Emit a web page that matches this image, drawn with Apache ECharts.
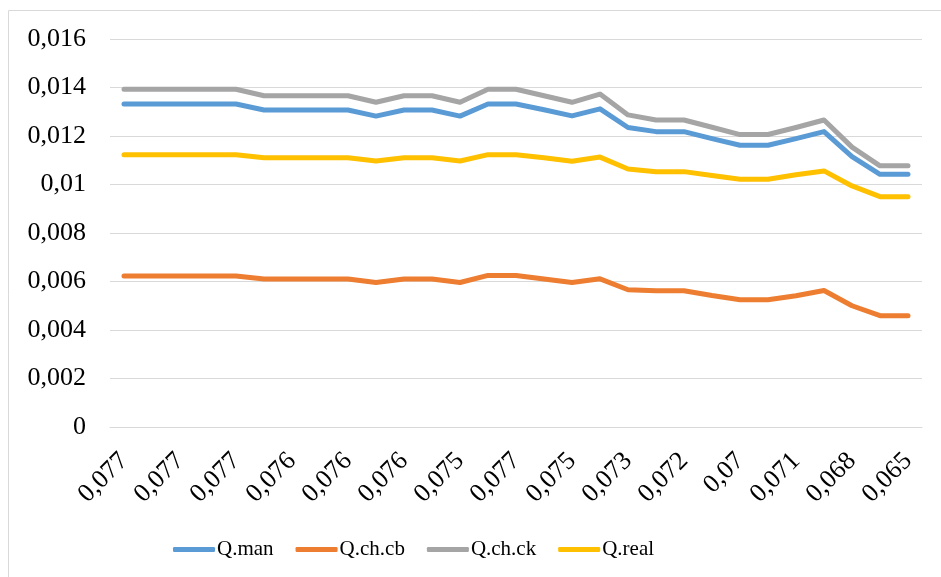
<!DOCTYPE html>
<html>
<head>
<meta charset="utf-8">
<script src="https://cdn.jsdelivr.net/npm/echarts@6/dist/echarts.min.js"></script>
<style>
  html, body { margin: 0; padding: 0; background: #fff; }
  #chart { width: 941px; height: 577px; }
</style>
</head>
<body>
<div id="chart"></div>
<script>
// Category labels (odd positions are not shown on the axis)
const categories = [
  '0,077', '0,077', '0,077', '0,077', '0,077', '0,076', '0,076', '0,076',
  '0,076', '0,076', '0,076', '0,076', '0,075', '0,076', '0,077', '0,076',
  '0,075', '0,074', '0,073', '0,072', '0,072', '0,071', '0,07', '0,07',
  '0,071', '0,071', '0,068', '0,066', '0,065'
];

const qMan = [
  0.01332, 0.01332, 0.01332, 0.01332, 0.01332, 0.01307, 0.01307, 0.01307,
  0.01307, 0.01282, 0.01307, 0.01307, 0.01282, 0.01332, 0.01332, 0.01308,
  0.01283, 0.01312, 0.01235, 0.01218, 0.01218, 0.01189, 0.01162, 0.01162,
  0.01189, 0.01218, 0.01115, 0.01042, 0.01042
];

const qChCb = [
  0.00623, 0.00623, 0.00623, 0.00623, 0.00623, 0.0061, 0.0061, 0.0061,
  0.0061, 0.00596, 0.0061, 0.0061, 0.00596, 0.00625, 0.00625, 0.0061,
  0.00596, 0.00611, 0.00566, 0.00562, 0.00562, 0.00542, 0.00525, 0.00525,
  0.00541, 0.00563, 0.005, 0.00459, 0.00459
];

const qChCk = [
  0.01393, 0.01393, 0.01393, 0.01393, 0.01393, 0.01366, 0.01366, 0.01366,
  0.01366, 0.01339, 0.01366, 0.01366, 0.01339, 0.01393, 0.01393, 0.01366,
  0.01339, 0.01373, 0.01287, 0.01266, 0.01266, 0.01236, 0.01206, 0.01206,
  0.01235, 0.01266, 0.01154, 0.01077, 0.01077
];

const qReal = [
  0.01123, 0.01123, 0.01123, 0.01123, 0.01123, 0.0111, 0.0111, 0.0111,
  0.0111, 0.01097, 0.0111, 0.0111, 0.01097, 0.01123, 0.01123, 0.0111,
  0.01096, 0.01113, 0.01064, 0.01053, 0.01053, 0.01037, 0.01022, 0.01022,
  0.0104, 0.01056, 0.00994, 0.0095, 0.0095
];

const yTicks = ['0', '0,002', '0,004', '0,006', '0,008', '0,01', '0,012', '0,014', '0,016'];

const seriesDefs = [
  { name: 'Q.man', data: qMan, color: '#5B9BD5' },
  { name: 'Q.ch.cb', data: qChCb, color: '#ED7D31' },
  { name: 'Q.ch.ck', data: qChCk, color: '#A5A5A5' },
  { name: 'Q.real', data: qReal, color: '#FFC000' }
];

const font = '"Liberation Serif", "Times New Roman", serif';
const chart = echarts.init(document.getElementById('chart'), null, { renderer: 'canvas' });

chart.setOption({
  animation: false,
  backgroundColor: '#ffffff',
  graphic: [{
    type: 'rect',
    shape: { x: 8.5, y: 10.5, width: 1000, height: 1000 },
    style: { fill: 'none', stroke: '#d9d9d9', lineWidth: 1 },
    silent: true,
    z: -1
  }],
  grid: { left: 110, right: 19, top: 39, bottom: 150, containLabel: false },
  legend: {
    left: 168,
    top: 534,
    icon: 'roundRect',
    itemWidth: 42,
    itemHeight: 5,
    itemGap: 22,
    textStyle: { fontFamily: font, fontSize: 21, color: '#000', padding: [0, 0, 0, -3] },
    data: seriesDefs.map(s => s.name)
  },
  xAxis: {
    type: 'category',
    data: categories,
    boundaryGap: true,
    axisLine: { show: true, lineStyle: { color: '#d9d9d9', width: 1 } },
    axisTick: { show: false },
    axisLabel: {
      interval: 1,
      rotate: 45,
      margin: 30,
      fontFamily: font,
      fontSize: 26,
      color: '#000'
    }
  },
  yAxis: {
    type: 'value',
    min: 0,
    max: 0.016,
    interval: 0.002,
    axisLine: { show: false },
    axisTick: { show: false },
    splitLine: { lineStyle: { color: '#d9d9d9', width: 1 } },
    axisLabel: {
      margin: 24,
      fontFamily: font,
      fontSize: 26,
      color: '#000',
      formatter: (v) => yTicks[Math.round(v / 0.002)]
    }
  },
  series: seriesDefs.map(s => ({
    name: s.name,
    type: 'line',
    data: s.data,
    showSymbol: false,
    symbol: 'none',
    color: s.color,
    lineStyle: { color: s.color, width: 5, cap: 'round', join: 'round' },
    emphasis: { disabled: true }
  }))
});
</script>
</body>
</html>
